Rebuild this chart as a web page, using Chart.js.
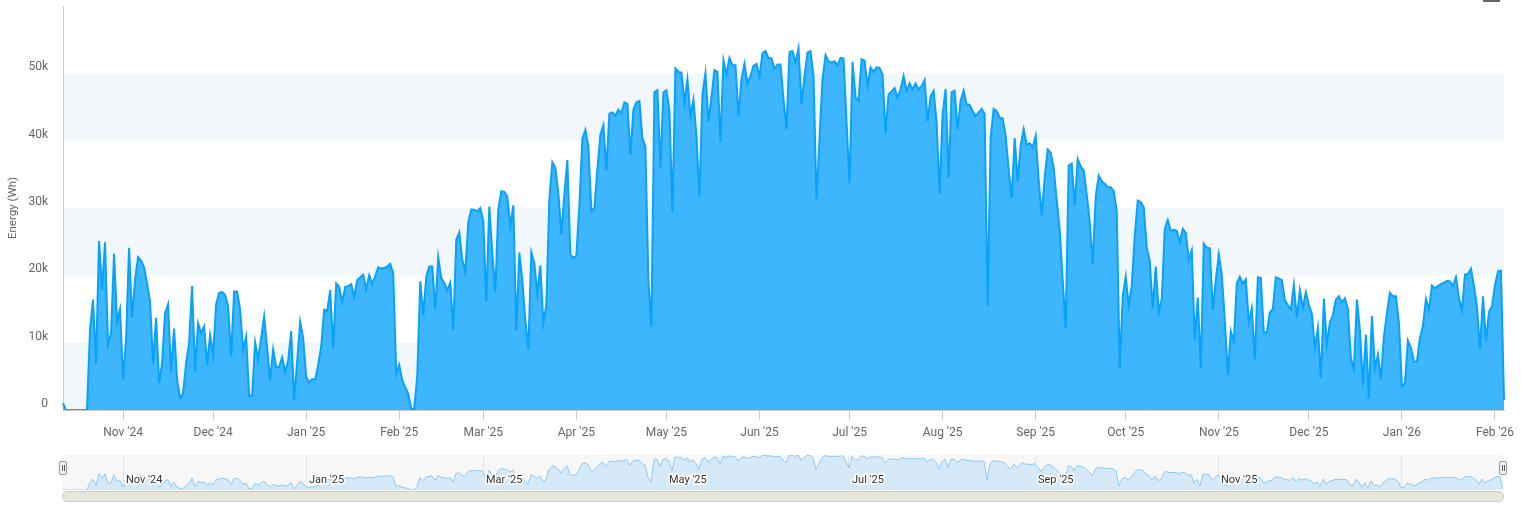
<!DOCTYPE html>
<html>
<head>
<meta charset="utf-8">
<script src="https://cdn.jsdelivr.net/npm/chart.js@4.4.1/dist/chart.umd.min.js"></script>
<style>
  body { margin: 0; background: #fff; }
  #wrap { position: relative; width: 1521px; height: 520px; overflow: hidden; }
  canvas { position: absolute; left: 0; }
  #main { top: 0; }
  #nav { top: 455px; }
  .handle { position: absolute; top: 461px; height: 14px; background: #f2f2f2; border: 1px solid #999; border-radius: 2px; box-sizing: border-box; width: 8px; }
  .handle::before, .handle::after { content: ''; position: absolute; top: 3px; width: 1px; height: 6px; background: #555; }
  .handle::before { left: 2px; }
  .handle::after { left: 4px; }
  #scroll { position: absolute; left: 62px; top: 491px; width: 1440px; height: 9px; background: #e6e6dc; border: 1px solid #cccccc; border-radius: 5px; }
  #menu { position: absolute; left: 1483px; top: 0; width: 17px; height: 2px; background: #666; }
</style>
</head>
<body>
<div id="wrap">
  <canvas id="main" width="1521" height="448"></canvas>
  <canvas id="nav" width="1521" height="35"></canvas>
  <div class="handle" style="left:59px"></div>
  <div class="handle" style="left:1499px"></div>
  <div id="scroll"></div>
  <div id="menu"></div>
</div>
<script>
// daily energy, kWh, first day 12 Oct 2024
const START = Date.UTC(2024, 9, 12);
const oct24 = [1.0, 0, 0, 0, 0, 0, 0, 0, 0, 12.0, 16.4, 6.9, 25.1, 17.9, 24.9, 9.7, 11.4, 23.2, 13.2, 15.0];
const nov24 = [4.5, 10.4, 24.1, 13.7, 19.3, 22.7, 22.2, 21.2, 18.8, 16.1, 6.9, 13.7, 4.0, 6.9, 14.4, 15.7, 5.6, 12.1, 4.5, 1.7, 2.5, 6.9, 9.9, 18.4, 5.8, 12.9, 11.4, 12.4, 6.7, 11.1];
const dec24 = [8.2, 15.7, 17.4, 17.5, 17.1, 15.4, 8.0, 17.6, 17.6, 14.9, 8.9, 10.9, 2.1, 2.1, 10.0, 7.5, 10.7, 13.9, 9.2, 4.4, 9.0, 6.4, 6.4, 7.8, 5.7, 7.3, 11.7, 1.5, 7.2, 13.1, 10.7];
const jan25 = [4.9, 4.1, 4.6, 4.5, 6.7, 9.4, 14.9, 14.7, 17.8, 9.2, 18.8, 18.3, 16.0, 18.3, 18.4, 18.7, 16.8, 19.3, 19.7, 20.1, 18.0, 20.0, 18.7, 19.9, 21.2, 21.0, 21.1, 21.3, 21.7, 20.3, 5.4];
const feb25 = [6.7, 4.4, 3.4, 2.4, 0.2, 0.2, 5.0, 19.1, 14.1, 19.8, 21.3, 21.3, 15.0, 22.7, 19.6, 18.9, 17.8, 18.9, 11.9, 25.3, 26.4, 22.3, 20.5, 27.9, 29.8, 29.7, 29.5, 30.0];
const mar25 = [28.0, 16.1, 30.2, 23.3, 17.5, 29.8, 32.5, 32.4, 31.7, 27.3, 30.4, 11.8, 23.4, 19.3, 13.4, 9.0, 23.4, 21.8, 17.3, 21.5, 12.9, 15.6, 31.2, 36.8, 36.0, 32.2, 26.1, 32.0, 37.1, 23.1, 22.6];
const apr25 = [22.9, 30.3, 40.3, 41.6, 39.2, 29.5, 30.0, 35.7, 40.9, 42.3, 35.6, 44.0, 44.2, 43.7, 44.6, 44.1, 45.7, 45.5, 37.9, 44.6, 45.7, 45.9, 40.4, 39.1, 19.3, 12.4, 47.2, 47.5, 36.0, 47.2];
const may25 = [47.5, 44.4, 29.4, 50.7, 50.2, 50.1, 45.7, 49.1, 43.6, 46.1, 40.7, 31.7, 46.9, 50.0, 42.8, 46.4, 50.5, 50.2, 39.8, 51.9, 49.8, 52.3, 51.2, 51.2, 43.7, 49.1, 51.4, 48.5, 49.6, 51.1, 51.4];
const jun25 = [49.5, 53.0, 53.3, 52.3, 52.2, 50.7, 51.3, 51.3, 46.1, 41.7, 53.2, 53.3, 51.6, 53.7, 45.4, 49.6, 53.1, 53.3, 49.6, 31.3, 40.2, 49.1, 52.7, 51.8, 51.6, 51.8, 51.2, 52.3, 52.2, 42.7];
const jul25 = [33.7, 51.7, 46.4, 45.9, 52.1, 51.9, 48.1, 50.9, 50.2, 50.9, 50.8, 49.8, 41.1, 46.9, 47.3, 47.8, 46.4, 47.6, 49.6, 47.4, 48.5, 47.6, 48.5, 47.6, 48.1, 49.0, 42.9, 46.6, 47.4, 42.7, 32.1];
const aug25 = [43.9, 47.7, 34.5, 47.2, 47.4, 41.7, 45.9, 47.4, 45.4, 45.3, 44.4, 43.6, 44.2, 44.7, 44.0, 15.4, 40.4, 44.7, 44.4, 43.4, 43.3, 40.7, 35.7, 31.5, 40.4, 34.0, 39.3, 41.7, 39.4, 39.6, 39.0];
const sep25 = [40.7, 34.2, 28.9, 34.5, 38.7, 38.2, 36.0, 31.2, 26.8, 19.3, 12.2, 36.3, 36.6, 30.3, 37.3, 36.2, 35.6, 32.0, 28.0, 21.6, 31.7, 34.8, 34.0, 33.6, 33.1, 33.1, 32.5, 29.5, 6.2, 16.9];
const oct25 = [19.8, 15.5, 18.5, 25.8, 31.1, 30.9, 30.1, 24.1, 22.1, 15.1, 21.3, 14.6, 16.5, 26.9, 28.2, 26.6, 26.8, 26.6, 24.9, 26.9, 26.3, 22.3, 23.7, 10.4, 16.7, 6.2, 24.7, 24.1, 24.0, 14.8, 19.3];
const nov25 = [23.1, 20.1, 13.4, 5.2, 11.7, 10.2, 18.8, 19.8, 18.8, 19.4, 13.0, 15.1, 7.5, 19.7, 19.6, 11.5, 11.5, 14.5, 15.0, 19.7, 19.5, 19.3, 16.3, 15.6, 14.9, 18.6, 13.7, 17.8, 15.2, 17.5];
const dec25 = [15.6, 14.3, 9.2, 12.2, 4.7, 16.5, 9.8, 13.0, 14.1, 16.4, 16.9, 16.0, 16.6, 15.0, 7.7, 6.1, 16.4, 11.9, 3.7, 11.2, 1.7, 14.0, 6.2, 8.2, 4.5, 10.9, 14.4, 17.4, 16.9, 16.9, 12.9];
const jan26 = [3.5, 4.0, 10.3, 9.2, 7.2, 7.2, 10.7, 12.5, 16.5, 14.9, 18.5, 18.1, 18.4, 18.7, 18.9, 19.2, 19.1, 18.4, 19.7, 16.6, 14.8, 20.1, 20.2, 21.0, 18.4, 15.4, 9.0, 16.9, 10.2, 14.6, 15.4];
const feb26 = [18.6, 20.6, 20.7, 1.5];

const monthTicks = ["Nov '24", "Dec '24", "Jan '25", "Feb '25", "Mar '25", "Apr '25", "May '25", "Jun '25",
                    "Jul '25", "Aug '25", "Sep '25", "Oct '25", "Nov '25", "Dec '25", "Jan '26", "Feb '26"];
const navTicks = ["Nov '24", "Jan '25", "Mar '25", "May '25", "Jul '25", "Sep '25", "Nov '25", ""];
const bands = [[0, 10000], [20000, 30000], [40000, 50000]];

const energyKWh = [].concat(oct24, nov24, dec24, jan25, feb25, mar25, apr25, may25, jun25,
                            jul25, aug25, sep25, oct25, nov25, dec25, jan26, feb26);
const energy = energyKWh.map(v => Math.round(v * 1000));

const days = energy.map((v, i) => new Date(START + i * 86400000));
const categories = days.map(d => d.toISOString().slice(0, 10));
const monthStarts = [];
days.forEach((d, i) => { if (d.getUTCDate() === 1) monthStarts.push(i); });

const tickText = {};
monthStarts.forEach((idx, k) => { tickText[idx] = monthTicks[k]; });
const navText = {};
monthStarts.filter((idx, k) => k % 2 === 0).forEach((idx, k) => { navText[idx] = navTicks[k]; });

const FONT = 'Roboto, "Liberation Sans", Arial, sans-serif';
Chart.defaults.font.family = FONT;

const bandPlugin = {
  id: 'bands',
  beforeDraw(chart) {
    const { ctx, chartArea, scales } = chart;
    ctx.save();
    ctx.fillStyle = '#f2f7fc';
    bands.forEach(b => {
      const top = scales.y.getPixelForValue(b[1]);
      const bot = scales.y.getPixelForValue(b[0]);
      ctx.fillRect(chartArea.left, top, chartArea.right - chartArea.left, bot - top);
    });
    ctx.restore();
  }
};

new Chart(document.getElementById('main'), {
  type: 'line',
  data: {
    labels: categories,
    datasets: [{
      label: 'Energy',
      data: energy,
      borderColor: '#08a1fb',
      borderWidth: 2,
      backgroundColor: 'rgb(62, 182, 253)',
      fill: 'origin',
      pointRadius: 0,
      tension: 0
    }]
  },
  options: {
    responsive: false,
    animation: false,
    events: [],
    layout: { padding: { top: 6, right: 17, left: 0, bottom: 0 } },
    plugins: { legend: { display: false }, tooltip: { enabled: false } },
    scales: {
      x: {
        afterFit: s => { s.height = 38; s.paddingLeft = 0; s.paddingRight = 0; },
        border: { color: '#cccccc' },
        grid: {
          drawOnChartArea: false,
          tickLength: 10,
          color: c => (tickText[c.index] ? '#cccccc' : 'rgba(0,0,0,0)')
        },
        ticks: {
          autoSkip: false,
          maxRotation: 0,
          padding: 6,
          color: '#666666',
          font: { size: 12 },
          callback: (v, i) => tickText[i] || ''
        }
      },
      y: {
        min: 0,
        max: 60000,
        afterFit: s => { s.width = 63; s.paddingTop = 0; s.paddingBottom = 0; },
        border: { display: true, color: '#cccccc' },
        grid: { drawOnChartArea: false, drawTicks: false },
        ticks: {
          stepSize: 10000,
          padding: 15,
          labelOffset: -6,
          color: '#666666',
          font: { size: 12 },
          callback: v => (v >= 60000 ? '' : v === 0 ? '0' : v / 1000 + 'k')
        },
        title: {
          display: true,
          text: 'Energy (Wh)',
          color: '#666666',
          font: { size: 11.5 },
          padding: { top: 6, bottom: 0 }
        }
      }
    }
  },
  plugins: [bandPlugin]
});

const navPlugin = {
  id: 'navDecor',
  beforeDraw(chart) {
    const { ctx, chartArea } = chart;
    ctx.save();
    ctx.fillStyle = '#f7f7f7';
    ctx.fillRect(chartArea.left, chartArea.top, chartArea.right - chartArea.left, chartArea.bottom - chartArea.top);
    ctx.restore();
  },
  afterDatasetsDraw(chart) {
    const { ctx, chartArea, scales } = chart;
    ctx.save();
    ctx.font = '11px ' + FONT;
    ctx.textBaseline = 'middle';
    ctx.lineWidth = 3;
    ctx.strokeStyle = '#ffffff';
    ctx.fillStyle = '#333333';
    Object.keys(navText).forEach(k => {
      if (!navText[k]) return;
      const x = scales.x.getPixelForValue(Number(k)) + 3;
      const y = chartArea.bottom - 10;
      ctx.strokeText(navText[k], x, y);
      ctx.fillText(navText[k], x, y);
    });
    ctx.restore();
  }
};

new Chart(document.getElementById('nav'), {
  type: 'line',
  data: {
    labels: categories,
    datasets: [{
      data: energy,
      borderColor: '#8ccaf6',
      borderWidth: 1,
      backgroundColor: '#d6e9f9',
      fill: 'origin',
      pointRadius: 0,
      tension: 0
    }]
  },
  options: {
    responsive: false,
    animation: false,
    events: [],
    layout: { padding: { top: 0, right: 18, left: 63, bottom: 0 } },
    plugins: { legend: { display: false }, tooltip: { enabled: false } },
    scales: {
      x: {
        afterFit: s => { s.height = 0; },
        border: { display: false },
        grid: {
          drawTicks: false,
          color: c => (navText[c.index] !== undefined ? '#e3e3e3' : 'rgba(0,0,0,0)')
        },
        ticks: { display: false, autoSkip: false }
      },
      y: { display: false, min: 0, max: Math.max(...energy) }
    }
  },
  plugins: [navPlugin]
});
</script>
</body>
</html>
